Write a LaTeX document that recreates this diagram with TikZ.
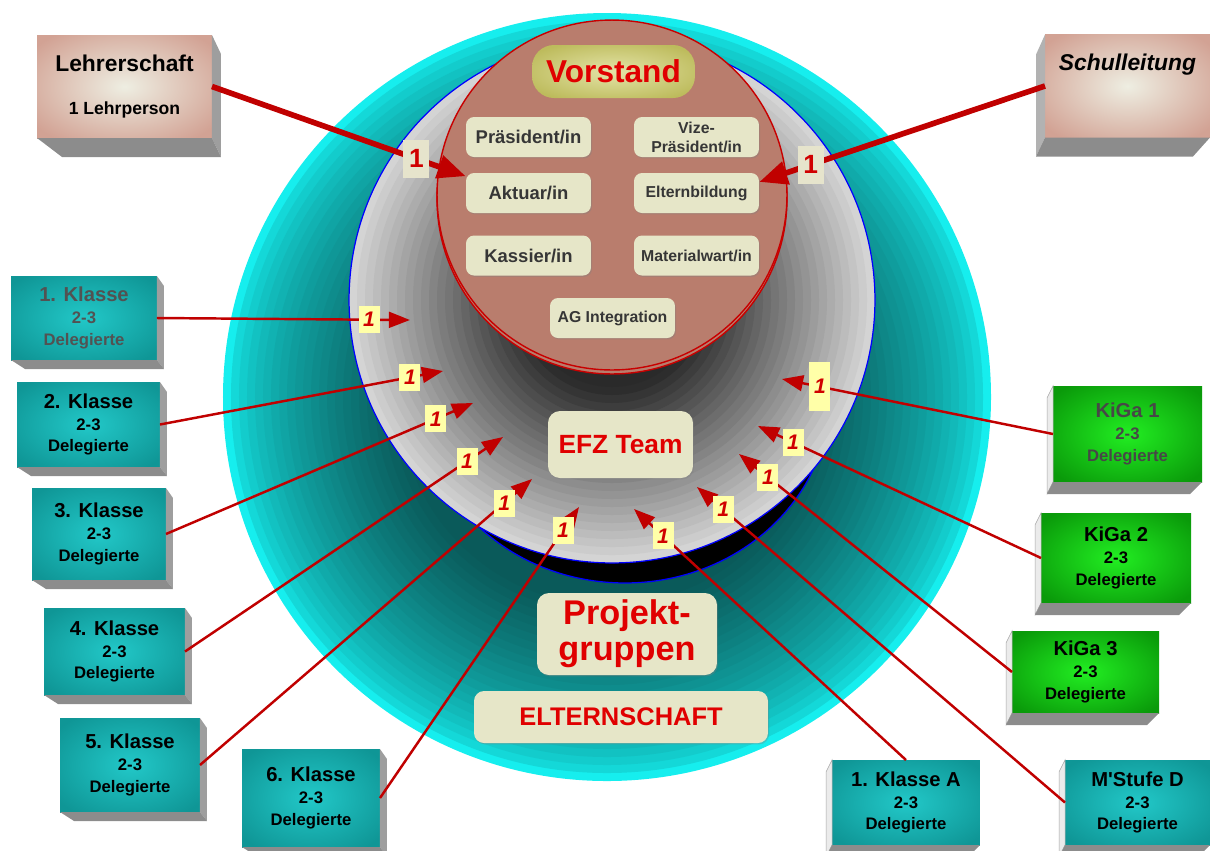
\documentclass[tikz,border=0pt]{standalone}
\usepackage{fontspec}
\setmainfont{Liberation Sans}[Ligatures=TeXOff]
\usetikzlibrary{arrows.meta,shadows}

\definecolor{ringedge}{HTML}{16F0F0}
\definecolor{ringdark}{HTML}{0A5A5A}
\definecolor{diskB}{HTML}{2A2A2A}
\definecolor{diskF}{HTML}{D4D4D4}
\definecolor{tealin}{HTML}{22C8C8}
\definecolor{tealout}{HTML}{0F9696}
\definecolor{greenin}{HTML}{22EE22}
\definecolor{greenout}{HTML}{0A9A0A}
\definecolor{pinkin}{HTML}{EEEEE2}
\definecolor{pinkout}{HTML}{D2A294}
\definecolor{pillin}{HTML}{E4E4A8}
\definecolor{pillout}{HTML}{BDBB5C}
\definecolor{vorfill}{HTML}{B97D6D}
\definecolor{vorred}{HTML}{C80000}
\definecolor{beige}{HTML}{E6E6C8}
\definecolor{lblyellow}{HTML}{FFFFA8}
\definecolor{lblbeige}{HTML}{E6E4CC}
\definecolor{lblred}{HTML}{D00000}
\definecolor{arrowred}{HTML}{C00000}
\definecolor{teamred}{HTML}{E00000}
\definecolor{amttext}{HTML}{363636}

\pgfdeclareradialshading{tealshade}{\pgfpoint{0bp}{0bp}}{color(0bp)=(tealin); color(32bp)=(tealout); color(50bp)=(tealout)}
\pgfdeclareradialshading{greenshade}{\pgfpoint{0bp}{0bp}}{color(0bp)=(greenin); color(32bp)=(greenout); color(50bp)=(greenout)}
\pgfdeclareradialshading{pinkshade}{\pgfpoint{0bp}{0bp}}{color(0bp)=(pinkin); color(32bp)=(pinkout); color(50bp)=(pinkout)}
\pgfdeclareradialshading{pillshade}{\pgfpoint{0bp}{0bp}}{color(0bp)=(pillin); color(30bp)=(pillout); color(50bp)=(pillout)}

\tikzset{
  face/.style={rectangle, inner sep=0pt, outer sep=0pt, align=center},
  klasse/.style={face, shade, shading=tealshade, font=\bfseries\fontsize{9.5}{12.3}\selectfont},
  kiga/.style={face, shade, shading=greenshade, font=\bfseries\fontsize{9.5}{12.3}\selectfont},
  chef/.style={face, shade, shading=pinkshade, minimum height=2.06cm, font=\bfseries\fontsize{10}{15}\selectfont},
  amt/.style={rectangle, rounded corners=0.16cm, fill=beige, minimum width=2.5cm, minimum height=0.8cm,
    inner sep=0pt, align=center, text=amttext,
    drop shadow={shadow xshift=0.6pt, shadow yshift=-0.8pt, opacity=0.35},
    font=\bfseries\fontsize{10.5}{12}\selectfont},
  team/.style={amt, text=teamred, rounded corners=0.24cm},
  onelbl/.style={rectangle, fill=lblyellow, minimum width=0.42cm, minimum height=0.54cm, inner sep=0pt,
    text=lblred, font=\bfseries\itshape\fontsize{12}{12}\selectfont},
  bigone/.style={rectangle, fill=lblbeige, minimum width=0.52cm, minimum height=0.76cm, inner sep=0pt,
    text=lblred, font=\bfseries\fontsize{15}{15}\selectfont},
  thinarrow/.style={draw=arrowred, line width=1.4pt, -{Triangle[length=12pt,width=9pt]}},
  thickarrow/.style={draw=arrowred, line width=3.2pt, -{Triangle[length=16pt,width=13pt]}},
  sideface/.style={fill=black!38},
  bottomface/.style={fill=black!45},
  leftface/.style={fill=black!8, draw=black!35, line width=0.3pt}
}

\begin{document}
\begin{tikzpicture}[x=0.02cm,y=-0.02cm]
   \useasboundingbox (0,0) rectangle (1210,850);
   % rings
   \foreach \i in {0,...,26} {
    \pgfmathsetmacro\rad{(384-8*\i)*0.02}
    \pgfmathsetmacro\p{min(100,100*(max(0.001,\i*0.046296))^0.6)}
    \fill[ringdark!\p!ringedge] (607,397) circle (\rad cm);
   }
   \filldraw[fill=black, draw=blue, line width=0.7pt] (625,395) ellipse (4.1cm and 3.76cm);
   \foreach \i in {0,...,22} {
    \pgfmathsetmacro\rad{(263-8*\i)*0.02}
    \pgfmathsetmacro\q{max(0,min(100,((263-8*\i)/263-0.35)/0.65*100))}
    \fill[diskF!\q!diskB] (612,300) circle (\rad cm);
   }
   \draw[blue, line width=0.7pt] (612,300) circle (5.26cm);
   \filldraw[fill=vorfill, draw=vorred, line width=0.8pt] (612,199) circle (3.5cm);
   \filldraw[fill=vorfill, draw=vorred, line width=0.8pt] (612,195) circle (3.5cm);

   % Vorstand
   \node[face, shade, shading=pillshade, rounded corners=0.44cm, minimum width=3.26cm, minimum height=1.06cm,
     text=teamred, font=\bfseries\fontsize{18}{18}\selectfont] (vorstand) at (613.5,71.5) {Vorstand};
   \node[amt] (praes) at (528.5,137) {Präsident/in};
   \node[amt, font=\bfseries\fontsize{9}{10.8}\selectfont] (vize) at (696.5,137) {Vize-\\Präsident/in};
   \node[amt] (aktuar) at (528.5,193) {Aktuar/in};
   \node[amt, font=\bfseries\fontsize{9}{11}\selectfont] (eltern) at (696.5,193) {Elternbildung};
   \node[amt] (kassier) at (528.5,255.5) {Kassier/in};
   \node[amt, font=\bfseries\fontsize{9}{11}\selectfont] (material) at (696.5,255.5) {Materialwart/in};
   \node[amt, font=\bfseries\fontsize{9}{11}\selectfont] (ag) at (612.5,318) {AG Integration};

   \node[team, minimum width=2.9cm, minimum height=1.34cm, font=\bfseries\fontsize{15}{15}\selectfont] (efz) at (620.5,444.5) {EFZ Team};
   \node[team, minimum width=3.6cm, minimum height=1.64cm, font=\bfseries\fontsize{19.5}{20.5}\selectfont] (projekt) at (627,634) {Projekt-\\gruppen};
   \node[team, rounded corners=0.2cm, minimum width=5.88cm, minimum height=1.04cm, font=\bfseries\fontsize{14.5}{15}\selectfont] (elternschaft) at (621,717) {ELTERNSCHAFT};

   % outer boxes
   \node[chef, minimum width=3.5cm] (lehrer) at (124.5,86.5)
     {{\fontsize{13}{15}\selectfont Lehrerschaft}\\[10pt]1 Lehrperson};
   \node[chef, minimum width=3.3cm] (schul) at (1127.5,86)
     {{\itshape\fontsize{13}{15}\selectfont Schulleitung}\\[10pt]\phantom{1 Lehrperson}};
   \fill[sideface] (lehrer.north east) -- ++(9,19) -- ([shift={(9,19)}]lehrer.south east) -- (lehrer.south east) -- cycle;
   \fill[bottomface] (lehrer.south west) -- ++(25,19) -- ([shift={(9,19)}]lehrer.south east) -- (lehrer.south east) -- cycle;
   \fill[black!30] (schul.north west) -- ++(-9,20) -- ([shift={(-9,19)}]schul.south west) -- (schul.south west) -- cycle;
   \fill[black!45] (schul.south west) -- ++(-9,19) -- ([shift={(-17,19)}]schul.south east) -- (schul.south east) -- cycle;

   \node[klasse, minimum width=2.92cm, minimum height=1.68cm, text=black!68] (k1) at (84,318)
     {{\fontsize{11.5}{12}\selectfont 1. Klasse}\\2-3\\Delegierte};
   \node[klasse, minimum width=2.86cm, minimum height=1.7cm] (k2) at (88.5,424.5)
     {{\fontsize{11.5}{12}\selectfont 2. Klasse}\\2-3\\Delegierte};
   \node[klasse, minimum width=2.68cm, minimum height=1.84cm] (k3) at (99,534)
     {{\fontsize{11.5}{12}\selectfont 3. Klasse}\\2-3\\Delegierte};
   \node[klasse, minimum width=2.82cm, minimum height=1.74cm] (k4) at (114.5,651.5)
     {{\fontsize{11.5}{12}\selectfont 4. Klasse}\\2-3\\Delegierte};
   \node[klasse, minimum width=2.8cm, minimum height=1.88cm] (k5) at (130,765)
     {{\fontsize{11.5}{12}\selectfont 5. Klasse}\\2-3\\Delegierte};
   \node[klasse, minimum width=2.76cm, minimum height=1.96cm] (k6) at (311,798)
     {{\fontsize{11.5}{12}\selectfont 6. Klasse}\\2-3\\Delegierte};
   \node[klasse, minimum width=2.96cm, minimum height=1.7cm] (kA) at (906,802.5)
     {{\fontsize{11.5}{12}\selectfont 1. Klasse A}\\2-3\\Delegierte};
   \node[klasse, minimum width=2.9cm, minimum height=1.7cm] (mst) at (1137.5,802.5)
     {{\fontsize{11.5}{12}\selectfont M'Stufe D}\\2-3\\Delegierte};
   \node[kiga, minimum width=2.98cm, minimum height=1.92cm, text=black!72] (kg1) at (1127.5,434)
     {{\fontsize{11.5}{12}\selectfont KiGa 1}\\2-3\\Delegierte};
   \node[kiga, minimum width=3cm, minimum height=1.8cm] (kg2) at (1116,558)
     {{\fontsize{11.5}{12}\selectfont KiGa 2}\\2-3\\Delegierte};
   \node[kiga, minimum width=2.94cm, minimum height=1.64cm] (kg3) at (1085.5,672)
     {{\fontsize{11.5}{12}\selectfont KiGa 3}\\2-3\\Delegierte};

   \foreach \n in {k1,k2,k3,k4,k5,k6} {
    \fill[sideface] (\n.north east) -- ++(7,10) -- ([shift={(7,9)}]\n.south east) -- (\n.south east) -- cycle;
    \fill[bottomface] (\n.south west) -- ++(14,9) -- ([shift={(7,9)}]\n.south east) -- (\n.south east) -- cycle;
   }
   \foreach \n in {kg1,kg2,kg3,kA,mst} {
    \filldraw[leftface] (\n.north west) -- ++(-6,12) -- ([shift={(-6,12)}]\n.south west) -- (\n.south west) -- cycle;
    \fill[bottomface] (\n.south west) -- ++(-6,12) -- ([shift={(-12,12)}]\n.south east) -- (\n.south east) -- cycle;
   }

   % arrows
   \coordinate (tk1) at (410,320);
   \coordinate (tk2) at (443,371);
   \coordinate (tk3) at (473,403);
   \coordinate (tk4) at (503,437);
   \coordinate (tk5) at (532,479);
   \coordinate (tk6) at (579,507);
   \coordinate (tkA) at (634,509);
   \coordinate (tmst) at (697,487);
   \coordinate (tkg3) at (739,454);
   \coordinate (tkg2) at (758,426);
   \coordinate (tkg1) at (782,379);
   \foreach \n/\p in {k1/.838,k2/.883,k3/.879,k4/.887,k5/.916,k6/.92}
    \draw[thinarrow] (\n.east) -- node[onelbl,pos=\p] (o\n) {1} (t\n);
   \draw[thinarrow] (kA.north) -- node[onelbl,pos=.893] (okA) {1} (tkA);
   \foreach \n/\p in {mst/.929,kg3/.894,kg2/.876}
    \draw[thinarrow] (\n.west) -- node[onelbl,pos=\p] (o\n) {1} (t\n);
   \draw[thinarrow] (kg1.west) -- node[onelbl,pos=.86,minimum height=0.98cm] (okg1) {1} (tkg1);

   \draw[thickarrow] (lehrer.east) -- node[bigone,pos=.806] (olehrer) {1} (aktuar.165);
   \draw[thickarrow] (schul.west) -- node[bigone,pos=.82] (oschul) {1} (eltern.10);
  \end{tikzpicture}
\end{document}
